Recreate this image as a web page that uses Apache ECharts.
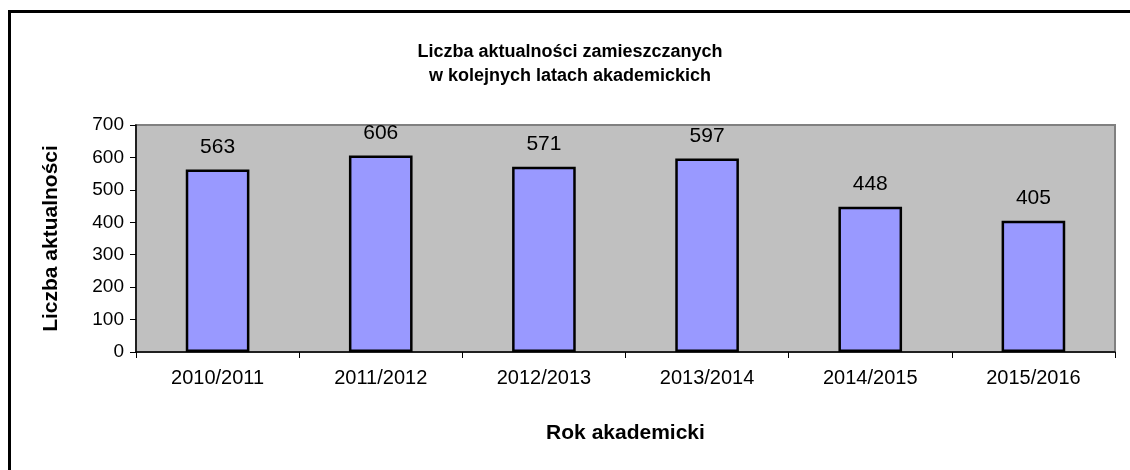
<!DOCTYPE html>
<html>
<head>
<meta charset="utf-8">
<script src="https://cdn.jsdelivr.net/npm/echarts@6/dist/echarts.min.js"></script>
<style>
  html, body { margin: 0; padding: 0; background: #fff; }
  #chart { width: 1130px; height: 470px; }
</style>
</head>
<body>
<div id="chart"></div>
<script>
const years = ['2010/2011', '2011/2012', '2012/2013', '2013/2014', '2014/2015', '2015/2016'];
const newsCounts = [563, 606, 571, 597, 448, 405];
const yTicks = [0, 100, 200, 300, 400, 500, 600, 700];

const FONT = '"Liberation Sans", Arial, sans-serif';

const chart = echarts.init(document.getElementById('chart'), null, { renderer: 'canvas' });

const option = {
    animation: false,
    backgroundColor: '#fff',
    textStyle: { fontFamily: FONT, color: '#000' },
    title: {
        text: 'Liczba aktualności zamieszczanych\nw kolejnych latach akademickich',
        left: 565,
        textAlign: 'center',
        top: 35,
        textStyle: { fontFamily: FONT, fontSize: 18, fontWeight: 'bold', lineHeight: 24, color: '#000' }
    },
    // outer frame of the original sheet, cut off at right and bottom
    graphic: [{
        type: 'rect',
        shape: { x: 9.5, y: 11.5, width: 1300, height: 700 },
        style: { fill: 'none', stroke: '#000', lineWidth: 3 },
        silent: true
    }],
    grid: {
        left: 136,
        right: 15,
        top: 125,
        bottom: 118,
        show: true,
        backgroundColor: '#C0C0C0',
        borderColor: '#808080',
        borderWidth: 2
    },
    xAxis: {
        type: 'category',
        data: years,
        name: 'Rok akademicki',
        nameLocation: 'middle',
        nameGap: 71,
        nameTextStyle: { fontFamily: FONT, fontSize: 21, fontWeight: 'bold', color: '#000' },
        axisLine: { lineStyle: { color: '#000', width: 1.5 } },
        axisTick: { show: true, length: 6, lineStyle: { color: '#000' } },
        axisLabel: { fontFamily: FONT, fontSize: 20, color: '#000', margin: 16 }
    },
    yAxis: {
        type: 'value',
        min: yTicks[0],
        max: yTicks[yTicks.length - 1],
        interval: 100,
        name: 'Liczba aktualności',
        nameLocation: 'middle',
        nameGap: 74,
        nameTextStyle: { fontFamily: FONT, fontSize: 21, fontWeight: 'bold', color: '#000' },
        axisLine: { show: true, lineStyle: { color: '#000', width: 1.5 } },
        axisTick: { show: true, length: 6, lineStyle: { color: '#000' } },
        axisLabel: { fontFamily: FONT, fontSize: 19, color: '#000', margin: 12 },
        splitLine: { show: false }
    },
    series: [{
        type: 'bar',
        data: newsCounts,
        barWidth: '39%',
        itemStyle: { color: '#9999FF', borderColor: '#000', borderWidth: 2.5 },
        label: {
            show: true,
            position: 'top',
            distance: 12,
            fontFamily: FONT,
            fontSize: 21,
            color: '#000'
        }
    }]
};

chart.setOption(option);
</script>
</body>
</html>
